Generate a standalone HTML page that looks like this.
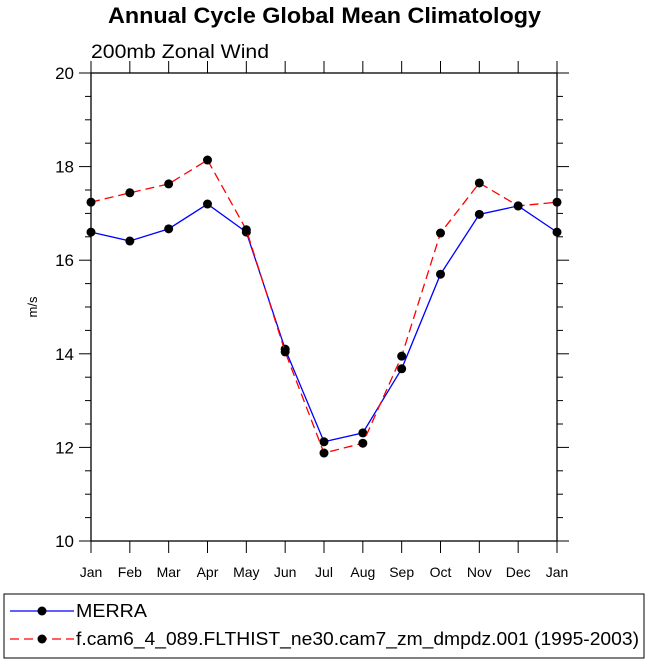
<!DOCTYPE html>
<html><head><meta charset="utf-8"><style>
body{margin:0;background:#fff;width:649px;height:663px;overflow:hidden}
svg text{font-family:"Liberation Sans",sans-serif;fill:#000}
</style></head><body>
<svg id="chart" width="649" height="663">
<text x="108" y="23" font-size="22" font-weight="bold" textLength="433" lengthAdjust="spacingAndGlyphs">Annual Cycle Global Mean Climatology</text>
<text x="91" y="58" font-size="19" textLength="178" lengthAdjust="spacingAndGlyphs">200mb Zonal Wind</text>
<text transform="translate(37,307) rotate(-90)" text-anchor="middle" font-size="13">m/s</text>
<rect x="91" y="73" width="466" height="468" fill="none" stroke="#000" stroke-width="1.3"/>
<g id="ticks"></g><g id="series"></g>
<rect x="4" y="594" width="640" height="64" fill="none" stroke="#000" stroke-width="1"/>
<g>
<line x1="10" y1="611" x2="74" y2="611" stroke="#0000ff" stroke-width="1.3"/>
<circle cx="42" cy="611" r="4.5" fill="#000"/>
<text x="76" y="617" font-size="18" textLength="71" lengthAdjust="spacingAndGlyphs">MERRA</text></g>
<g>
<line x1="10" y1="639" x2="74" y2="639" stroke="#ff0000" stroke-width="1.3" stroke-dasharray="9,5"/>
<circle cx="42" cy="639" r="4.5" fill="#000"/>
<text x="76" y="645" font-size="18" textLength="563" lengthAdjust="spacingAndGlyphs">f.cam6_4_089.FLTHIST_ne30.cam7_zm_dmpdz.001 (1995-2003)</text></g>
</svg>
<script>
const months=["Jan","Feb","Mar","Apr","May","Jun","Jul","Aug","Sep","Oct","Nov","Dec","Jan"];
const merra=[16.60,16.41,16.67,17.20,16.60,14.10,12.12,12.31,13.68,15.70,16.98,17.16,16.60];
const model=[17.24,17.44,17.63,18.14,16.65,14.04,11.88,12.09,13.95,16.58,17.65,17.16,17.24];
const yTicks=[10,12,14,16,18,20];
const NS="http://www.w3.org/2000/svg";
const X0=91,X1=557,Y0=541,Y1=73;
const xs=i=>X0+i*(X1-X0)/12;
const ys=v=>Y0-(v-10)*(Y0-Y1)/10;
const tg=document.getElementById('ticks'),sg=document.getElementById('series');
function mk(t,a,p){const e=document.createElementNS(NS,t);for(const k in a)e.setAttribute(k,a[k]);p.appendChild(e);return e;}
months.forEach((m,i)=>{
 const x=xs(i);
 mk('line',{x1:x,y1:Y0,x2:x,y2:Y0+12,stroke:'#000'},tg);
 mk('line',{x1:x,y1:Y1,x2:x,y2:Y1-12,stroke:'#000'},tg);
 const t=mk('text',{x:x,y:Y0+36,'text-anchor':'middle','font-size':'14'},tg);t.textContent=m;
 
 
});
for(let v=10;v<=20.001;v+=0.5){
 const y=ys(v),maj=Math.abs(v-Math.round(v/2)*2)<1e-6,l=maj?12:6;
 mk('line',{x1:X0,y1:y,x2:X0-l,y2:y,stroke:'#000'},tg);
 mk('line',{x1:X1,y1:y,x2:X1+l,y2:y,stroke:'#000'},tg);
}
yTicks.forEach(v=>{const t=mk('text',{x:X0-17,y:ys(v)+6,'text-anchor':'end','font-size':'17'},tg);t.textContent=v;
 
 });
function draw(vals,color,dash,name){
 const g=mk('g',{},sg);
 
 
 mk('polyline',{points:vals.map((v,i)=>xs(i)+','+ys(v)).join(' '),fill:'none',stroke:color,'stroke-width':1.3,'stroke-dasharray':dash},g);
 vals.forEach((v,i)=>{const c=mk('circle',{cx:xs(i),cy:ys(v),r:4.5,fill:'#000'},g);
  
  });
}
draw(merra,'#0000ff','none','merra-series');
draw(model,'#ff0000','9,5','model-series');
</script>
</body></html>
